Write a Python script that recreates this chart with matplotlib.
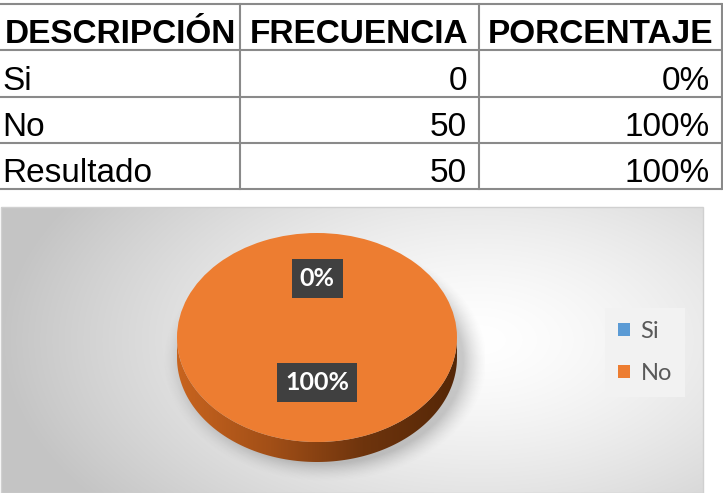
import numpy as np
import matplotlib
matplotlib.use("Agg")
import matplotlib.pyplot as plt
from matplotlib.patches import PathPatch, Rectangle
from matplotlib.path import Path
from matplotlib.colors import LinearSegmentedColormap

# ---------------- data ----------------
headers = ["DESCRIPCIÓN", "FRECUENCIA", "PORCENTAJE"]
descripcion = ["Si", "No", "Resultado"]
frecuencia = [0, 50, 50]
porcentaje = ["0%", "100%", "100%"]

categories = ["Si", "No"]
values = [0, 50]
pct_labels = ["0%", "100%"]
colors = ["#5B9BD5", "#ED7D31"]

# ---------------- figure ----------------
W, H = 723, 493
fig = plt.figure(figsize=(W / 100, H / 100), dpi=100)
base = fig.add_axes([0, 0, 1, 1])
base.set_xlim(0, W)
base.set_ylim(H, 0)
base.axis("off")

# ---------------- table ----------------
col_edges = [0, 240, 479, 722]
row_edges = [4, 50, 97, 143, 189]
line_c = "#8a8a8a"
for y in row_edges:
    base.plot([0, 722], [y, y], color=line_c, lw=1.5, solid_capstyle="butt")
for x in col_edges[1:]:
    base.plot([x, x], [row_edges[0], row_edges[-1]], color=line_c, lw=1.5)

tfont = "Liberation Sans"
fs = 24
for i, h in enumerate(headers):
    cx = (col_edges[i] + col_edges[i + 1]) / 2
    base.text(cx, row_edges[1] - 7, h, ha="center", va="baseline",
              fontsize=fs, fontweight="bold", family=tfont, color="black")
for r in range(3):
    yb = row_edges[r + 2] - 7
    base.text(col_edges[0] + 2, yb, descripcion[r], ha="left", va="baseline",
              fontsize=fs, family=tfont, color="black")
    base.text(col_edges[2] - 12, yb, str(frecuencia[r]), ha="right", va="baseline",
              fontsize=fs, family=tfont, color="black")
    base.text(col_edges[3] - 12, yb, porcentaje[r], ha="right", va="baseline",
              fontsize=fs, family=tfont, color="black")

# ---------------- chart background ----------------
bx0, bx1, by0, by1 = 1, 703, 207, 493
xs = np.linspace(bx0, bx1, 400)
ys = np.linspace(by0, by1, 200)
X, Y = np.meshgrid(xs, ys)
d = np.sqrt(((X - 480) / 480) ** 2 + ((Y - 340) / 270) ** 2)
g = 1 - 0.23 * np.clip(d, 0, 1) ** 1.4
bg = np.dstack([g, g, g])
base.imshow(bg, extent=(bx0, bx1, by1, by0), aspect="auto", zorder=0, interpolation="bilinear")
base.add_patch(Rectangle((bx0, by0), bx1 - bx0, by1 - by0, fill=False,
                         edgecolor="#d0d0d0", lw=1, zorder=1))

# ---------------- pie ----------------
pcx, pcy, pa, pb = 317, 337.5, 140, 104.5
xl, yl = (-1.2, 1.2), (-1.45, 1.2)
left = (pcx + xl[0] * pa) / W
width = (xl[1] - xl[0]) * pa / W
top_px = pcy - yl[1] * pb
bot_px = pcy - yl[0] * pb
pax = fig.add_axes([left, (H - bot_px) / H, width, (bot_px - top_px) / H])
pax.patch.set_visible(False)

depth = 20 / pb

# soft shadow
sx = np.linspace(xl[0], xl[1], 300)
sy = np.linspace(yl[0], yl[1], 300)
SX, SY = np.meshgrid(sx, sy)
rr = np.sqrt(((SX - 0.06) / 1.03) ** 2 + ((SY + depth + 0.03) / 1.03) ** 2)
alpha = 0.32 * np.clip((1.13 - rr) / 0.17, 0, 1) ** 1.5
shadow = np.zeros((300, 300, 4))
shadow[..., :3] = 0.35
shadow[..., 3] = alpha
pax.imshow(shadow, extent=(xl[0], xl[1], yl[0], yl[1]), origin="lower",
           aspect="auto", zorder=0, interpolation="bilinear")

wedges, _ = pax.pie(values, colors=colors, startangle=90, counterclock=False,
                    radius=1, wedgeprops=dict(linewidth=0, zorder=3))
for w in wedges:
    w.set_zorder(3)

# side of the 3-D pie
t = np.linspace(np.pi, 2 * np.pi, 200)
upper = np.column_stack([np.cos(t), np.sin(t)])
lower = np.column_stack([np.cos(t[::-1]), np.sin(t[::-1]) - depth])
verts = np.vstack([upper, lower, upper[:1]])
side = PathPatch(Path(verts, closed=True), facecolor="none", edgecolor="none")
pax.add_patch(side)
side_cmap = LinearSegmentedColormap.from_list(
    "side", ["#c8641f", "#a24f17", "#6e340d", "#552707"])
grad = np.linspace(0, 1, 256).reshape(1, -1)
im = pax.imshow(grad, cmap=side_cmap, extent=(-1, 1, -1 - depth, 0),
                aspect="auto", zorder=2, interpolation="bilinear")
im.set_clip_path(side)

pax.set_aspect("auto")
pax.set_xlim(*xl)
pax.set_ylim(*yl)
pax.axis("off")

label_r = [0.565, 0.43]
for w, lab, r in zip(wedges, pct_labels, label_r):
    ang = np.deg2rad((w.theta1 + w.theta2) / 2)
    pax.text(r * np.cos(ang), r * np.sin(ang), lab, ha="center", va="center",
             fontsize=18, fontweight="bold", family="Lato", color="white", zorder=5,
             bbox=dict(boxstyle="square,pad=0.32", facecolor="#404040",
                       edgecolor="none"))

leg = pax.legend(wedges, categories, loc="center",
                 bbox_to_anchor=(645, 352.5), bbox_transform=base.transData,
                 frameon=True, fancybox=False, facecolor="#f2f2f2", edgecolor="none",
                 framealpha=1, prop=dict(family="Lato", size=17),
                 handlelength=0.5, handleheight=0.5, handletextpad=0.45,
                 labelspacing=0.9, borderpad=0.55, borderaxespad=0)
for txt in leg.get_texts():
    txt.set_color("#595959")

fig.savefig("out.png", dpi=100)
